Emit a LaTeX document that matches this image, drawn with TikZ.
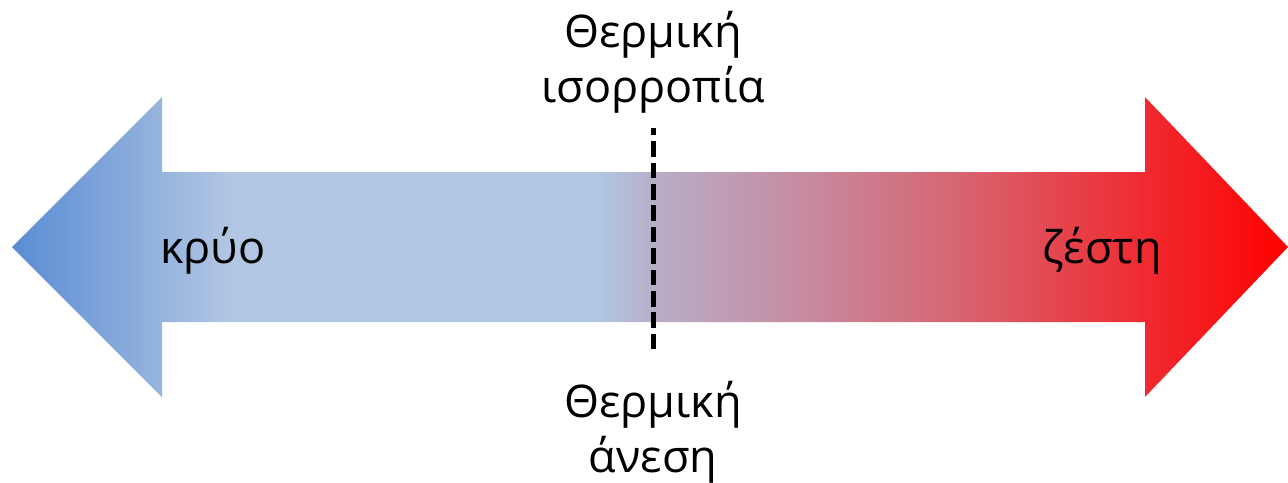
\documentclass[tikz,border=0pt]{standalone}
\usepackage{fontspec}
\setmainfont{Open Sans}
\definecolor{coldtip}{RGB}{90,140,212}
\definecolor{coldpale}{RGB}{177,198,226}
\definecolor{neutral}{RGB}{184,174,200}
\definecolor{warmA}{RGB}{200,135,155}
\definecolor{warmB}{RGB}{215,100,112}
\definecolor{warmC}{RGB}{237,50,57}
\definecolor{hot}{RGB}{255,0,0}
% cold-to-hot scale; the path is mapped onto 25bp..75bp
\pgfdeclarehorizontalshading{thermal}{100bp}{
  color(0bp)=(coldtip);
  color(25bp)=(coldtip);
  color(33.5bp)=(coldpale);
  color(48bp)=(coldpale);
  color(50.1bp)=(neutral);
  color(56.66bp)=(warmA);
  color(62.15bp)=(warmB);
  color(68.4bp)=(warmC);
  color(75bp)=(hot);
  color(100bp)=(hot)}
\tikzset{
  label/.style={font=\fontsize{45}{55}\selectfont, inner sep=0pt, align=center, anchor=base},
  divider/.style={line width=5pt, black, dash pattern=on 15.6pt off 5.8pt, dash phase=8.2pt}
}
\begin{document}
\begin{tikzpicture}[x=1pt,y=-1pt]
  \useasboundingbox (0,0) rectangle (1288,482);
  % double-headed temperature arrow
  \shade[shading=thermal]
    (12,247) -- (162,97) -- (162,172) -- (1145,172) -- (1145,97) -- (1288,247)
    -- (1145,397) -- (1145,322) -- (162,322) -- (162,397) -- cycle;
  % thermal equilibrium marker
  \coordinate (eqtop) at (653,128);
  \coordinate (eqbot) at (653,353);
  \draw[divider] (eqtop) -- (eqbot);
  % base anchor sits on the last line of each label
  \node[label] (cold) at (213,263) {κρύο};
  \node[label] (hotlbl) at (1102,263) {ζέστη};
  \node[label] (equil) at (653,102) {Θερμική\\ισορροπία};
  \node[label] (comfort) at (653,472) {Θερμική\\άνεση};
\end{tikzpicture}
\end{document}
